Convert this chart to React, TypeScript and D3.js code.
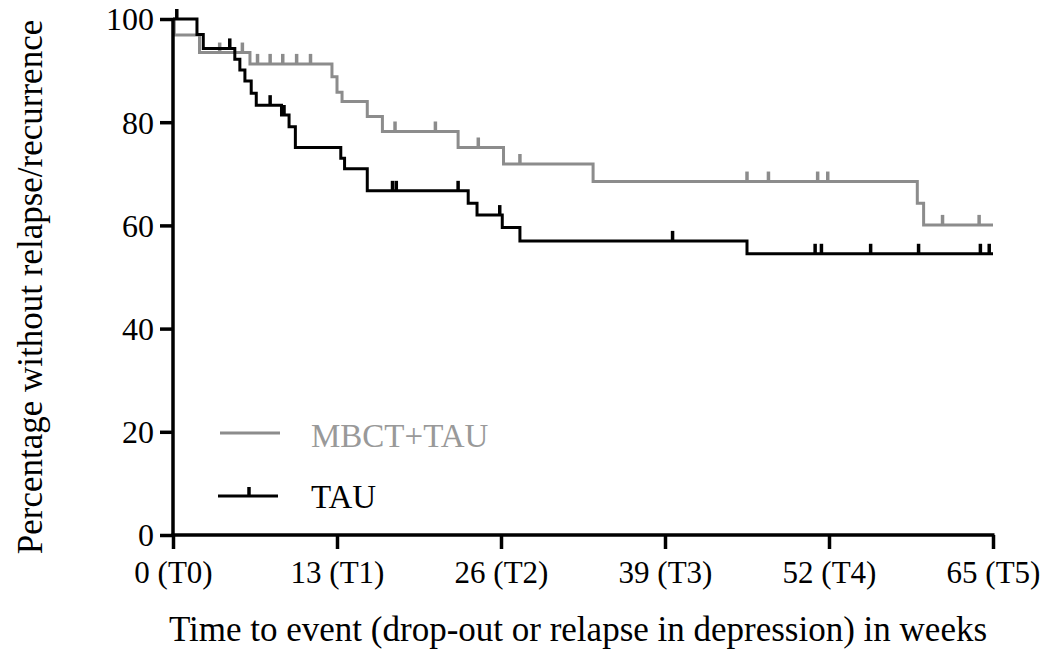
import React, { useEffect, useRef } from 'react';
import * as d3 from 'd3';

// Kaplan-Meier steps: event times (weeks) and survival after each event (%)
const mbctTimes = [0, 0.1, 2.1, 6.1, 12.6, 13.0, 13.4, 15.4, 16.6, 22.6, 26.2, 33.3, 59.0, 59.5, 65];
const mbctSurv = [100, 96.9, 93.5, 91.3, 88.8, 85.8, 84.0, 81.1, 78.2, 75.1, 71.9, 68.5, 64.3, 60.1, 60.1];
const mbctCensored = [3.7, 5.5, 6.7, 7.7, 8.7, 9.8, 10.9, 17.6, 20.8, 24.2, 27.5, 45.5, 47.2, 51.1, 51.9, 61.0, 63.9];

const tauTimes = [0, 1.9, 2.4, 4.9, 5.3, 5.7, 6.2, 6.6, 8.6, 9.2, 9.7, 13.3, 13.6, 15.4, 23.4, 24.1, 26.1, 27.5, 45.5, 65];
const tauSurv = [100, 97.0, 94.3, 92.2, 90.1, 88.0, 85.6, 83.3, 81.4, 79.1, 75.1, 73.0, 71.0, 66.7, 64.3, 62.0, 59.6, 57.0, 54.5, 54.5];
const tauCensored = [0.3, 4.5, 7.7, 8.8, 17.4, 17.7, 22.6, 25.9, 39.6, 50.9, 51.4, 55.3, 59.1, 64.0, 64.7];

const xTicks = [0, 13, 26, 39, 52, 65];
const xTickLabels = ['0 (T0)', '13 (T1)', '26 (T2)', '39 (T3)', '52 (T4)', '65 (T5)'];
const yTicks = [0, 20, 40, 60, 80, 100];

const GRAY = '#8c8c8c';
const FONT = "'Liberation Serif', 'DejaVu Serif', serif";

const App: React.FC = () => {
  const svgRef = useRef<SVGSVGElement>(null);

  useEffect(() => {
    if (!svgRef.current) return;
    const svg = d3.select(svgRef.current);
    svg.selectAll('*').remove();

    const x = d3.scaleLinear().domain([0, 65]).range([173, 993]);
    const y = d3.scaleLinear().domain([0, 100]).range([535, 19]);

    const line = d3
      .line<[number, number]>()
      .x((d) => x(d[0]))
      .y((d) => y(d[1]))
      .curve(d3.curveStepAfter);

    const survAt = (times: number[], surv: number[], t: number) => {
      let s = surv[0];
      times.forEach((tt, i) => {
        if (tt <= t) s = surv[i];
      });
      return s;
    };

    const drawCurve = (times: number[], surv: number[], censored: number[], color: string) => {
      const pts = times.map((t, i) => [t, surv[i]] as [number, number]);
      svg
        .append('path')
        .attr('d', line(pts))
        .attr('fill', 'none')
        .attr('stroke', color)
        .attr('stroke-width', 3);
      svg
        .append('g')
        .selectAll('line')
        .data(censored)
        .join('line')
        .attr('x1', (d) => x(d))
        .attr('x2', (d) => x(d))
        .attr('y1', (d) => y(survAt(times, surv, d)))
        .attr('y2', (d) => y(survAt(times, surv, d)) - 10)
        .attr('stroke', color)
        .attr('stroke-width', 3.5);
    };

    drawCurve(mbctTimes, mbctSurv, mbctCensored, GRAY);
    drawCurve(tauTimes, tauSurv, tauCensored, '#000');

    // y axis
    const yAxis = svg.append('g').attr('transform', 'translate(173,0)').call(d3.axisLeft(y).tickValues(yTicks).tickSize(13).tickPadding(6));
    yAxis.attr('font-family', null).attr('font-size', null);
    yAxis.select('.domain').attr('d', `M0,${y(100) - 1}V${y(0)}`).attr('stroke-width', 3.5).attr('stroke', '#000');
    yAxis.selectAll('.tick line').attr('stroke-width', 3.5);
    yAxis
      .selectAll('.tick text')
      .style('font-family', FONT)
      .style('font-size', '32px')
      .attr('fill', '#000')
      .attr('dy', '0.34em');

    // x axis
    const xAxis = svg
      .append('g')
      .attr('transform', 'translate(0,535)')
      .call(
        d3
          .axisBottom(x)
          .tickValues(xTicks)
          .tickSize(14)
          .tickPadding(8)
          .tickFormat((_, i) => xTickLabels[i])
      );
    xAxis.attr('font-family', null).attr('font-size', null);
    xAxis.select('.domain').attr('d', `M${x(0) - 1.5},0H${x(65) + 1.5}`).attr('stroke-width', 3.5).attr('stroke', '#000');
    xAxis.selectAll('.tick line').attr('stroke-width', 3.5);
    xAxis
      .selectAll('.tick text')
      .style('font-family', FONT)
      .style('font-size', '31px')
      .attr('fill', '#000')
      .attr('dy', '0.85em');

    // axis titles
    svg
      .append('text')
      .attr('transform', 'translate(42,287) rotate(-90)')
      .attr('text-anchor', 'middle')
      .style('font-family', FONT)
      .style('font-size', '35px')
      .text('Percentage without relapse/recurrence');
    svg
      .append('text')
      .attr('x', 578)
      .attr('y', 641)
      .attr('text-anchor', 'middle')
      .style('font-family', FONT)
      .style('font-size', '35px')
      .text('Time to event (drop-out or relapse in depression) in weeks');

    // legend
    const legend = svg.append('g');
    legend.append('line').attr('x1', 220).attr('x2', 280).attr('y1', 433).attr('y2', 433).attr('stroke', GRAY).attr('stroke-width', 3);
    legend
      .append('text')
      .attr('x', 311)
      .attr('y', 447)
      .style('font-family', FONT)
      .style('font-size', '33px')
      .attr('fill', '#999')
      .text('MBCT+TAU');
    legend.append('line').attr('x1', 218).attr('x2', 278).attr('y1', 496).attr('y2', 496).attr('stroke', '#000').attr('stroke-width', 3);
    legend.append('line').attr('x1', 249).attr('x2', 249).attr('y1', 496).attr('y2', 487).attr('stroke', '#000').attr('stroke-width', 3.5);
    legend
      .append('text')
      .attr('x', 311)
      .attr('y', 508)
      .style('font-family', FONT)
      .style('font-size', '33px')
      .attr('fill', '#000')
      .text('TAU');
  }, []);

  return (
    <svg
      ref={svgRef}
      width={1049}
      height={658}
      style={{ position: 'absolute', left: 0, top: 0, background: '#fff' }}
    />
  );
};

export default App;
